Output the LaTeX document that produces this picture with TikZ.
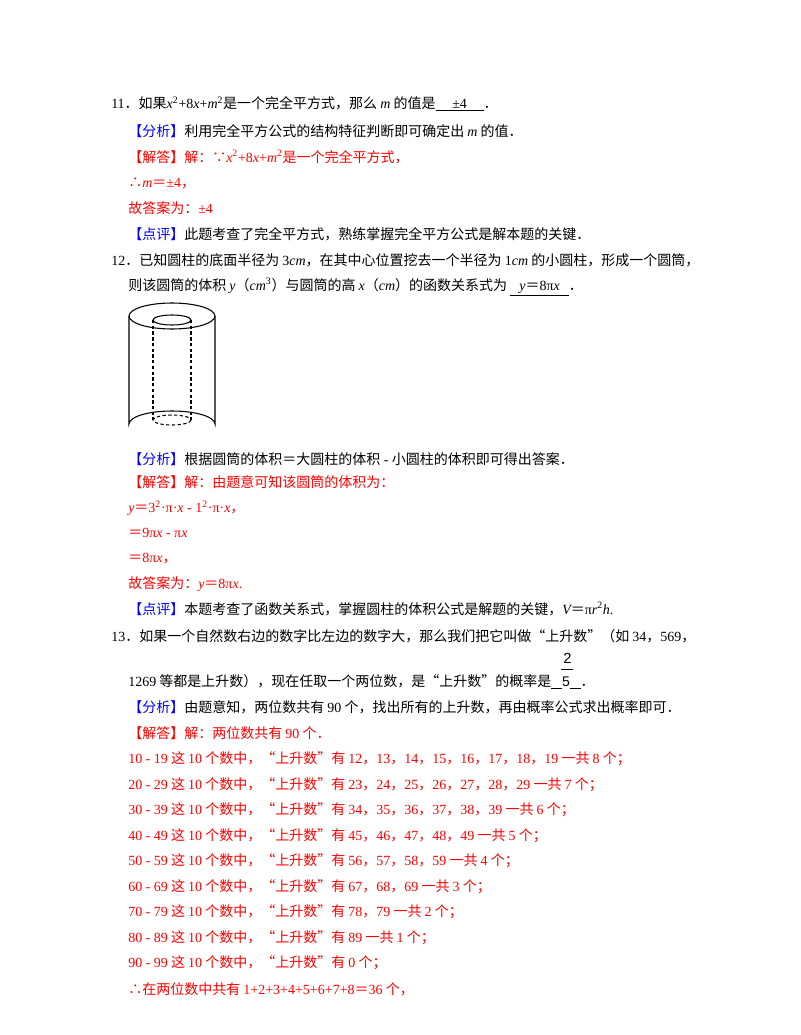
\documentclass[tikz,border=0pt]{standalone}
\usepackage{fontspec}
\setmainfont{Noto Sans CJK SC}
\newfontfamily\tms{Liberation Serif}
\newfontfamily\sns{Liberation Sans}
\newcommand{\vv}[1]{{\tms\itshape #1}}
\newcommand{\nn}[1]{{\tms #1}}
\definecolor{tagblue}{RGB}{0,0,255}
\definecolor{ansred}{RGB}{255,0,0}
\begin{document}
\begin{tikzpicture}[
  x=0.75pt, y=-0.75pt,
  plain_line/.style={anchor=west, inner sep=0pt, font=\fontsize{10.5}{12}\selectfont},
  red_line/.style={plain_line, text=ansred},
  cyl_line/.style={line width=0.8pt},
  cyl_dash/.style={line width=0.8pt, dash pattern=on 2.5pt off 1.8pt},
]
\useasboundingbox (0,0) rectangle (800,1035);
% question 11
\draw (111,104) node (q11) [plain_line] {\nn{11}．如果\vv{x}\nn{\textsuperscript{2}+8}\vv{x}\nn{+}\vv{m}\nn{\textsuperscript{2}}是一个完全平方式，那么 \vv{m} 的值是\underline{\makebox[36pt]{\nn{±4}}}．};
\draw (128,131) node (a11) [plain_line] {\textcolor{tagblue}{【分析】}利用完全平方公式的结构特征判断即可确定出 \vv{m} 的值．};
\draw (128,157) node (s11) [red_line] {【解答】解：∵\vv{x}\nn{\textsuperscript{2}+8}\vv{x}\nn{+}\vv{m}\nn{\textsuperscript{2}}是一个完全平方式，};
\draw (128,183) node (s11b) [red_line] {∴\vv{m}＝\nn{±4}，};
\draw (128,208) node (s11c) [red_line] {故答案为：\nn{±4}};
\draw (128,234) node (c11) [plain_line] {\textcolor{tagblue}{【点评】}此题考查了完全平方式，熟练掌握完全平方公式是解本题的关键．};
% question 12
\draw (111,260) node (q12) [plain_line] {\nn{12}．已知圆柱的底面半径为 \nn{3}\vv{cm}，在其中心位置挖去一个半径为 \nn{1}\vv{cm} 的小圆柱，形成一个圆筒，};
\draw (128,287) node (q12b) [plain_line] {则该圆筒的体积 \vv{y}（\vv{cm}\nn{\textsuperscript{3}}）与圆筒的高 \vv{x}（\vv{cm}）的函数关系式为\ \underline{\makebox[44pt]{\vv{y}＝\nn{8π}\vv{x}}}．};
% tube
\draw[cyl_line] (172,316) ellipse [x radius=43, y radius=13];
\draw[cyl_line] (129,316) -- (129,424) arc [start angle=180, end angle=360, x radius=43, y radius=13] -- (215,316);
\draw[cyl_line] (172,320) ellipse [x radius=19, y radius=5];
\draw[cyl_dash] (153,320) -- (153,420) (191,320) -- (191,420);
\draw[cyl_dash] (172,420) ellipse [x radius=19, y radius=5];
\draw (128,459) node (a12) [plain_line] {\textcolor{tagblue}{【分析】}根据圆筒的体积＝大圆柱的体积\nn{ - }小圆柱的体积即可得出答案．};
\draw (128,482) node (s12) [red_line] {【解答】解：由题意可知该圆筒的体积为：};
\draw (128,508) node (s12b) [red_line] {\vv{y}＝\nn{3\textsuperscript{2}·π·}\vv{x}\nn{ - 1\textsuperscript{2}·π·}\vv{x}，};
\draw (128,533) node (s12c) [red_line] {＝\nn{9π}\vv{x}\nn{ - π}\vv{x}};
\draw (128,559) node (s12d) [red_line] {＝\nn{8π}\vv{x}，};
\draw (128,584) node (s12e) [red_line] {故答案为：\vv{y}＝\nn{8π}\vv{x}\nn{.}};
\draw (128,609) node (c12) [plain_line] {\textcolor{tagblue}{【点评】}本题考查了函数关系式，掌握圆柱的体积公式是解题的关键，\vv{V}＝\nn{π}\vv{r}\nn{\textsuperscript{2}}\vv{h}\nn{.}};
% question 13
\draw (111,636) node (q13) [plain_line] {\nn{13}．如果一个自然数右边的数字比左边的数字大，那么我们把它叫做“上升数”（如 \nn{34}，\nn{569}，};
\draw (128,682) node (q13b) [plain_line] {\nn{1269} 等都是上升数），现在任取一个两位数，是“上升数”的概率是\underline{\makebox[8pt]{}}{\sns 5}\underline{\makebox[8pt]{}}．};
\draw (563,658) node (num) [plain_line, font=\sns\fontsize{11}{12}\selectfont] {2};
\draw[line width=0.6pt] (561,669) -- (573,669);
\draw (128,707) node (a13) [plain_line] {\textcolor{tagblue}{【分析】}由题意知，两位数共有 \nn{90} 个，找出所有的上升数，再由概率公式求出概率即可．};
\draw (128,733) node (s13) [red_line] {【解答】解：两位数共有 \nn{90} 个．};
\draw (128,759) node (r1) [red_line] {\nn{10 - 19} 这 \nn{10} 个数中，“上升数”有 \nn{12}，\nn{13}，\nn{14}，\nn{15}，\nn{16}，\nn{17}，\nn{18}，\nn{19} 一共 \nn{8} 个；};
\draw (128,785) node (r2) [red_line] {\nn{20 - 29} 这 \nn{10} 个数中，“上升数”有 \nn{23}，\nn{24}，\nn{25}，\nn{26}，\nn{27}，\nn{28}，\nn{29} 一共 \nn{7} 个；};
\draw (128,810) node (r3) [red_line] {\nn{30 - 39} 这 \nn{10} 个数中，“上升数”有 \nn{34}，\nn{35}，\nn{36}，\nn{37}，\nn{38}，\nn{39} 一共 \nn{6} 个；};
\draw (128,836) node (r4) [red_line] {\nn{40 - 49} 这 \nn{10} 个数中，“上升数”有 \nn{45}，\nn{46}，\nn{47}，\nn{48}，\nn{49} 一共 \nn{5} 个；};
\draw (128,861) node (r5) [red_line] {\nn{50 - 59} 这 \nn{10} 个数中，“上升数”有 \nn{56}，\nn{57}，\nn{58}，\nn{59} 一共 \nn{4} 个；};
\draw (128,887) node (r6) [red_line] {\nn{60 - 69} 这 \nn{10} 个数中，“上升数”有 \nn{67}，\nn{68}，\nn{69} 一共 \nn{3} 个；};
\draw (128,912) node (r7) [red_line] {\nn{70 - 79} 这 \nn{10} 个数中，“上升数”有 \nn{78}，\nn{79} 一共 \nn{2} 个；};
\draw (128,938) node (r8) [red_line] {\nn{80 - 89} 这 \nn{10} 个数中，“上升数”有 \nn{89} 一共 \nn{1} 个；};
\draw (128,963) node (r9) [red_line] {\nn{90 - 99} 这 \nn{10} 个数中，“上升数”有 \nn{0} 个；};
\draw (128,989) node (r10) [red_line] {∴在两位数中共有 \nn{1+2+3+4+5+6+7+8}＝\nn{36} 个，};
\end{tikzpicture}
\end{document}
